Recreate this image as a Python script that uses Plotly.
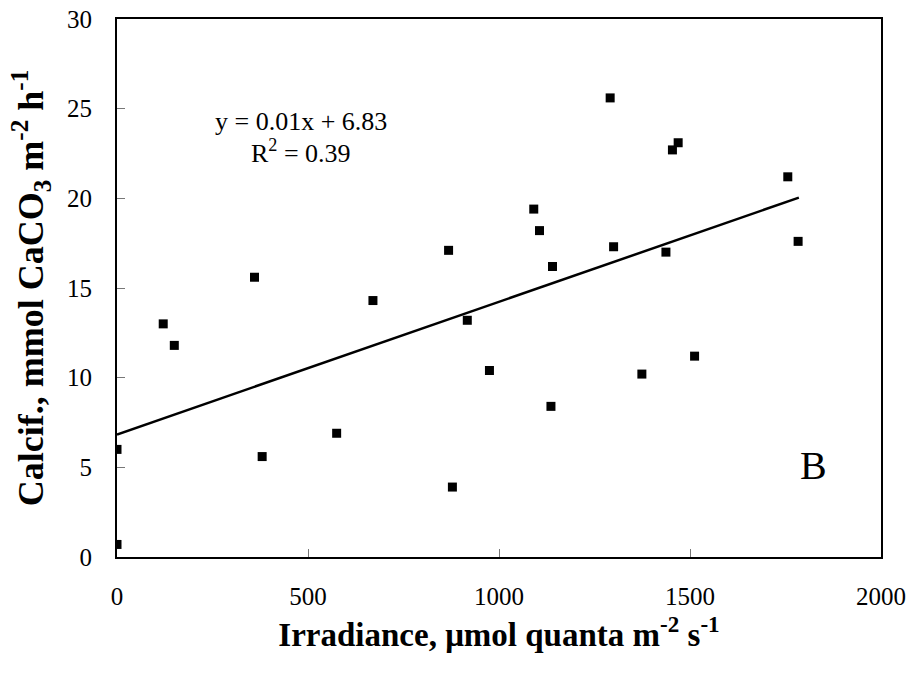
import plotly.graph_objects as go

# Data
irradiance = [0, 0, 121, 150, 360, 380, 575, 670, 868, 878, 917, 975, 1091, 1106,
              1136, 1140, 1291, 1300, 1374, 1437, 1454, 1469, 1512, 1756, 1783]
calcification = [6.0, 0.7, 13.0, 11.8, 15.6, 5.6, 6.9, 14.3, 17.1, 3.9, 13.2, 10.4,
                 19.4, 18.2, 8.4, 16.2, 25.6, 17.3, 10.2, 17.0, 22.7, 23.1, 11.2,
                 21.2, 17.6]

# Trend line as drawn in the reference (endpoints)
trend_x = [0, 1785]
trend_y = [6.83, 20.04]

x_ticks = [0, 500, 1000, 1500, 2000]
y_ticks = [0, 5, 10, 15, 20, 25, 30]

FONT = "Liberation Serif, Times New Roman, serif"

fig = go.Figure()
fig.add_trace(go.Scatter(
    x=trend_x, y=trend_y, mode="lines",
    line=dict(color="black", width=2.5),
    showlegend=False, hoverinfo="skip",
))
fig.add_trace(go.Scatter(
    x=irradiance, y=calcification, mode="markers",
    marker=dict(symbol="square", size=9, color="black"),
    showlegend=False,
))

axis_common = dict(
    showline=True, linecolor="black", linewidth=2, mirror=True,
    ticks="inside", ticklen=8, tickwidth=1, tickcolor="#777777",
    showgrid=False, zeroline=False, automargin=False,
    ticklabeloverflow="allow",
    tickfont=dict(family=FONT, size=25, color="black"),
)

fig.update_xaxes(
    range=[0, 2000], tickvals=x_ticks, ticklabelstandoff=16,
    title=dict(text="<b>Irradiance, μmol quanta m<sup>-2</sup> s<sup>-1</sup></b>",
               font=dict(family=FONT, size=33, color="black"), standoff=14),
    **axis_common,
)
fig.update_yaxes(
    range=[0, 30], tickvals=y_ticks, ticklabelstandoff=18,
    title=dict(text="<b>Calcif., mmol CaCO<sub>3</sub> m<sup>-2</sup> h<sup>-1</sup></b>",
               font=dict(family=FONT, size=36, color="black"), standoff=12),
    **axis_common,
)

fig.add_annotation(x=482, y=24.3, xref="x", yref="y", showarrow=False,
                   text="y = 0.01x + 6.83",
                   font=dict(family=FONT, size=26, color="black"))
fig.add_annotation(x=482, y=22.6, xref="x", yref="y", showarrow=False,
                   text="R<sup>2</sup> = 0.39",
                   font=dict(family=FONT, size=26, color="black"))
fig.add_annotation(x=1822, y=5.1, xref="x", yref="y", showarrow=False,
                   text="B", font=dict(family=FONT, size=40, color="black"))

fig.update_layout(
    width=913, height=679,
    margin=dict(l=117, r=32, t=19, b=122),
    paper_bgcolor="white", plot_bgcolor="white",
    font=dict(family=FONT, color="black"),
)

# Remove the default page margin so the figure sits at the window's top-left.
fig.write_html("out.html", config={"displayModeBar": False},
               post_script="document.body.style.margin='0';")
